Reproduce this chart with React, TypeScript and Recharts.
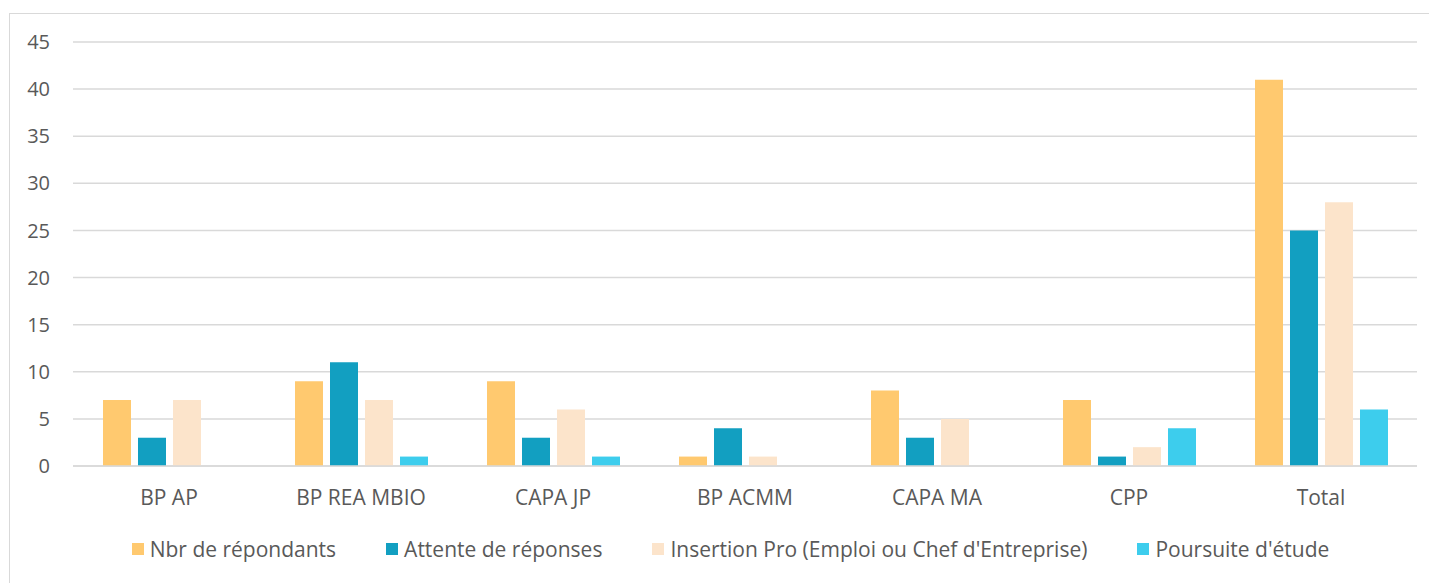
import { BarChart, Bar, XAxis, YAxis, CartesianGrid, Legend } from 'recharts'

const categories = ['BP AP', 'BP REA MBIO', 'CAPA JP', 'BP ACMM', 'CAPA MA', 'CPP', 'Total']
const repondants = [7, 9, 9, 1, 8, 7, 41]
const attente = [3, 11, 3, 4, 3, 1, 25]
const insertion = [7, 7, 6, 1, 5, 2, 28]
const poursuite = [0, 1, 1, 0, 0, 4, 6]
const yTicks = [0, 5, 10, 15, 20, 25, 30, 35, 40, 45]

const series = [
  { key: 'repondants', name: 'Nbr de répondants', color: '#FFC96F' },
  { key: 'attente', name: 'Attente de réponses', color: '#129FC1' },
  { key: 'insertion', name: "Insertion Pro (Emploi ou Chef d'Entreprise)", color: '#FCE4CB' },
  { key: 'poursuite', name: "Poursuite d'étude", color: '#3DCDED' },
]

const data = categories.map((c, i) => ({
  name: c,
  repondants: repondants[i],
  attente: attente[i],
  insertion: insertion[i],
  poursuite: poursuite[i],
}))

const font = '"Open Sans", sans-serif'
const textColor = '#595959'

function LegendContent() {
  return (
    <div
      style={{
        height: 40,
        display: 'flex',
        alignItems: 'center',
        justifyContent: 'center',
        gap: 50,
        fontFamily: font,
        fontSize: 21,
        color: textColor,
        paddingLeft: 36,
      }}
    >
      {series.map((s) => (
        <div key={s.key} style={{ display: 'flex', alignItems: 'center' }}>
          <span style={{ width: 12, height: 12, background: s.color, marginRight: 6, display: 'inline-block' }} />
          <span>{s.name}</span>
        </div>
      ))}
    </div>
  )
}

export default function App() {
  return (
    <div style={{ position: 'relative', width: 1429, height: 575, overflow: 'hidden' }}>
      <div
        style={{
          position: 'absolute',
          left: 1,
          top: 5,
          width: 1500,
          height: 700,
          borderTop: '1px solid #d9d9d9',
          borderLeft: '1px solid #d9d9d9',
        }}
      />
      <BarChart
        width={1429}
        height={570}
        data={data}
        margin={{ top: 34, right: 20, left: 0, bottom: 9 }}
        barCategoryGap={30}
        barGap={7}
      >
        <CartesianGrid vertical={false} stroke="#d9d9d9" strokeWidth={1.5} />
        <XAxis
          dataKey="name"
          height={63}
          axisLine={{ stroke: '#d9d9d9', strokeWidth: 1.5 }}
          tickLine={false}
          tickMargin={18}
          tick={{ fill: textColor, fontSize: 21, fontFamily: font }}
        />
        <YAxis
          width={65}
          domain={[0, 45]}
          ticks={yTicks}
          axisLine={false}
          tickLine={false}
          tickMargin={17}
          tick={{ fill: textColor, fontSize: 20, fontFamily: font }}
        />
        <Legend verticalAlign="bottom" height={40} content={<LegendContent />} />
        {series.map((s) => (
          <Bar key={s.key} dataKey={s.key} name={s.name} fill={s.color} isAnimationActive={false} />
        ))}
      </BarChart>
    </div>
  )
}
